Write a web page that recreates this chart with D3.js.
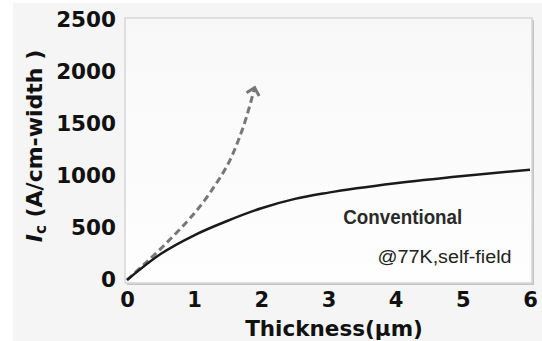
<!DOCTYPE html>
<html>
<head>
<meta charset="utf-8">
<script src="https://cdn.jsdelivr.net/npm/d3@7"></script>
<style>
  html, body { margin: 0; padding: 0; background: #ffffff; }
  svg { display: block; }
</style>
</head>
<body>
<div id="chart"></div>
<script>
// data
var xTicks = [0, 1, 2, 3, 4, 5, 6];
var yTicks = [0, 500, 1000, 1500, 2000, 2500];
var convThickness = [0, 0.5, 1, 1.5, 2, 2.5, 3, 4, 5, 6];
var convIc = [0, 250, 430, 570, 690, 780, 840, 930, 1000, 1060];
var newThickness = [0, 0.5, 1, 1.3, 1.5, 1.65, 1.78, 1.9];
var newIc = [0, 300, 640, 900, 1110, 1330, 1570, 1850];

var width = 542, height = 341;

var svg = d3.select("#chart").append("svg")
  .attr("width", width)
  .attr("height", height)
  .style("font-family", "'DejaVu Sans', sans-serif");

// page background (light grey with white strip round the edge)
svg.append("rect").attr("width", width).attr("height", height).attr("fill", "#ffffff");
svg.append("rect").attr("x", 13).attr("y", 3).attr("width", width - 13).attr("height", height - 3)
  .attr("fill", "#f5f5f5");

// set the ranges
var x = d3.scaleLinear().domain([0, 6]).range([127, 530]);
var y = d3.scaleLinear().domain([0, 2500]).range([280, 20]);

// plot box with a soft shadow
var defs = svg.append("defs");
var grad = defs.append("linearGradient").attr("id", "bg").attr("x1", 0).attr("y1", 0).attr("x2", 0).attr("y2", 1);
grad.append("stop").attr("offset", "0%").attr("stop-color", "#f8f8f8");
grad.append("stop").attr("offset", "100%").attr("stop-color", "#fefefe");

var bx0 = x(0) - 2, bx1 = x(6) + 2, by0 = y(2500) - 2, by1 = y(0) + 3;
svg.append("rect")
  .attr("x", bx0 + 2).attr("y", by0 + 2)
  .attr("width", bx1 - bx0).attr("height", by1 - by0)
  .attr("fill", "#c4c4c4");
svg.append("rect")
  .attr("x", bx0).attr("y", by0)
  .attr("width", bx1 - bx0).attr("height", by1 - by0)
  .attr("fill", "url(#bg)")
  .attr("stroke", "#d6d6d6")
  .attr("stroke-width", 1.5);

// axes (labels only, no domain lines)
var xAxis = svg.append("g")
  .attr("transform", "translate(0," + (y(0) + 9) + ")")
  .call(d3.axisBottom(x).tickValues(xTicks).tickSize(0).tickFormat(d3.format("d")));
xAxis.select(".domain").remove();
xAxis.selectAll("text")
  .attr("font-family", "'DejaVu Sans', sans-serif")
  .attr("font-weight", "bold")
  .attr("font-size", 21)
  .attr("fill", "#111");

var yAxis = svg.append("g")
  .attr("transform", "translate(" + 124 + ",0)")
  .call(d3.axisLeft(y).tickValues(yTicks).tickSize(0).tickPadding(8).tickFormat(d3.format("d")));
yAxis.select(".domain").remove();
yAxis.selectAll("text")
  .attr("font-family", "'DejaVu Sans', sans-serif")
  .attr("font-weight", "bold")
  .attr("font-size", 21.5)
  .attr("fill", "#111");

// axis titles
svg.append("text")
  .attr("x", 334)
  .attr("y", 336)
  .attr("text-anchor", "middle")
  .attr("font-weight", "bold")
  .attr("font-size", 21.5)
  .attr("fill", "#111")
  .text("Thickness(\u03bcm)");

var yTitle = svg.append("text")
  .attr("transform", "translate(42," + 146 + ") rotate(-90)")
  .attr("text-anchor", "middle")
  .attr("font-weight", "bold")
  .attr("font-size", 22)
  .attr("fill", "#111");
yTitle.append("tspan").attr("font-style", "italic").text("I");
yTitle.append("tspan").attr("font-size", 15).attr("dy", 4).text("c");
yTitle.append("tspan").attr("dy", -4).text(" (A/cm-width )");

// lines
var conv = convThickness.map(function(t, i) { return [t, convIc[i]]; });
var fresh = newThickness.map(function(t, i) { return [t, newIc[i]]; });

var line = d3.line()
  .x(function(d) { return x(d[0]); })
  .y(function(d) { return y(d[1]); });

defs.append("marker")
  .attr("id", "arrow")
  .attr("markerUnits", "userSpaceOnUse")
  .attr("viewBox", "-10 -10 20 20")
  .attr("markerWidth", 20).attr("markerHeight", 20)
  .attr("orient", "auto")
  .append("path")
  .attr("d", "M-7,-6.5 L0,0 L-7,6.5")
  .attr("fill", "none")
  .attr("stroke", "#777")
  .attr("stroke-width", 3)
  .attr("stroke-linejoin", "miter");

svg.append("path")
  .datum(fresh)
  .attr("fill", "none")
  .attr("stroke", "#777")
  .attr("stroke-width", 3)
  .attr("stroke-dasharray", "7,4")
  .attr("marker-end", "url(#arrow)")
  .attr("d", line.curve(d3.curveNatural)(fresh));

svg.append("path")
  .datum(conv)
  .attr("fill", "none")
  .attr("stroke", "#1a1a1a")
  .attr("stroke-width", 2.5)
  .attr("d", line.curve(d3.curveMonotoneX)(conv));

// annotations
svg.append("text")
  .attr("x", x(3.22))
  .attr("y", y(540))
  .attr("font-family", "'Liberation Sans', sans-serif")
  .attr("font-size", 20)
  .attr("font-weight", "bold")
  .attr("textLength", 119)
  .attr("lengthAdjust", "spacingAndGlyphs")
  .attr("fill", "#2a2a2a")
  .text("Conventional");

svg.append("text")
  .attr("x", x(3.73))
  .attr("y", y(160))
  .attr("font-family", "'Liberation Sans', sans-serif")
  .attr("font-size", 18)
  .attr("textLength", 134)
  .attr("lengthAdjust", "spacingAndGlyphs")
  .attr("fill", "#222")
  .text("@77K,self-field");
</script>
</body>
</html>
